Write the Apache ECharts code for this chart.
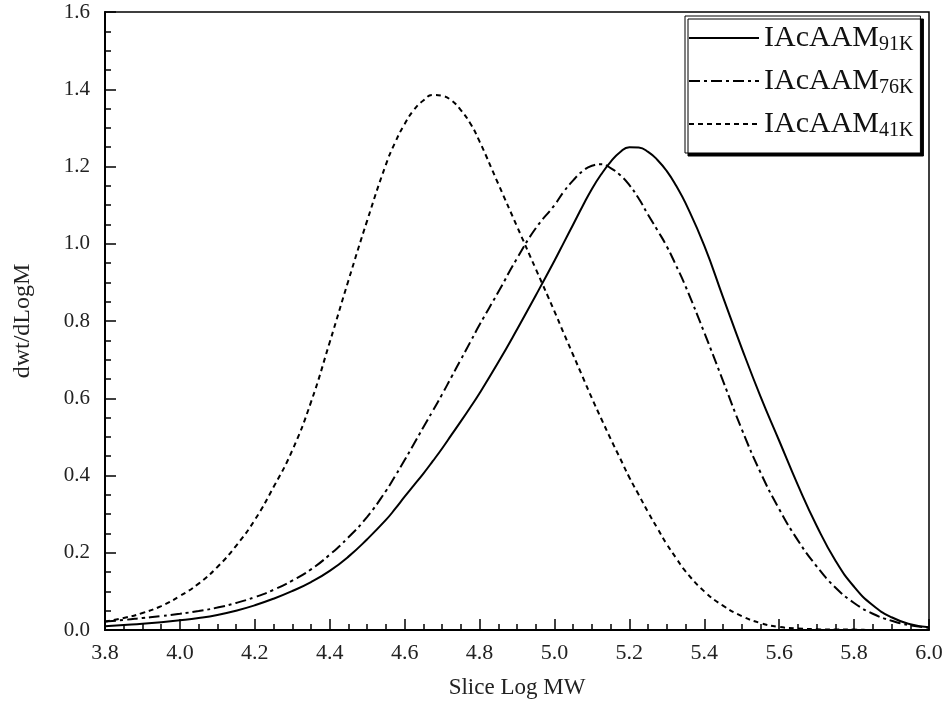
<!DOCTYPE html>
<html>
<head>
<meta charset="utf-8">
<script src="https://cdn.jsdelivr.net/npm/echarts@6/dist/echarts.min.js"></script>
<style>
html,body{margin:0;padding:0;background:#fff;}
#chart{width:946px;height:718px;}
</style>
</head>
<body>
<div id="chart"></div>
<script>
// Slice Log MW (x values)
const logMW = [3.80,3.85,3.90,3.95,4.00,4.05,4.10,4.15,4.20,4.25,4.30,4.35,4.40,4.45,4.50,4.55,
  4.575,4.60,4.625,4.65,4.675,4.70,4.725,4.75,4.775,4.80,
  4.85,4.90,4.95,5.00,
  5.025,5.05,5.075,5.10,5.125,5.15,5.175,5.20,5.225,5.25,5.275,5.30,5.325,5.35,
  5.40,5.45,5.50,5.55,5.60,5.65,5.70,5.75,5.80,5.85,5.90,5.95,6.00];

// dwt/dLogM values
const iac91K = [0.010,0.013,0.016,0.020,0.025,0.031,0.039,0.050,0.064,0.081,0.101,0.124,0.153,0.190,0.235,0.285,
  0.314,0.345,0.375,0.405,0.437,0.470,0.505,0.540,0.576,0.613,
  0.693,0.778,0.866,0.956,
  1.003,1.050,1.097,1.142,1.180,1.212,1.237,1.250,1.249,1.238,1.217,1.188,1.150,1.105,
  0.995,0.862,0.730,0.605,0.490,0.375,0.270,0.180,0.112,0.064,0.033,0.015,0.007];
const iac76K = [0.022,0.026,0.031,0.036,0.042,0.049,0.058,0.070,0.085,0.104,0.128,0.157,0.195,0.240,0.293,0.360,
  0.399,0.440,0.482,0.525,0.567,0.610,0.655,0.700,0.745,0.790,
  0.875,0.962,1.040,1.100,
  1.135,1.164,1.188,1.202,1.206,1.196,1.178,1.152,1.117,1.075,1.035,0.993,0.943,0.890,
  0.770,0.645,0.520,0.408,0.313,0.232,0.165,0.110,0.070,0.042,0.024,0.012,0.006];
const iac41K = [0.022,0.031,0.044,0.062,0.088,0.120,0.163,0.218,0.285,0.370,0.465,0.590,0.745,0.905,1.060,1.205,
  1.263,1.310,1.347,1.371,1.385,1.383,1.371,1.346,1.312,1.265,
  1.155,1.045,0.935,0.825,
  0.768,0.712,0.656,0.600,0.547,0.495,0.445,0.395,0.350,0.305,0.263,0.222,0.186,0.152,
  0.100,0.063,0.036,0.018,0.008,0.004,0.002,0.001,0.001,0,0,0,0];

const baseName = 'IAcAAM';
const subscripts = ['91K','76K','41K'];
const xTitle = 'Slice Log MW';
const yTitle = 'dwt/dLogM';

const serif = '"Liberation Serif","Times New Roman",serif';
const pair = ys => logMW.map((x,i)=>[x, ys[i]]);

const chart = echarts.init(document.getElementById('chart'), null, {renderer:'canvas'});
const dashStyles = ['solid', [11,4,3,4], [5,4]];
const seriesData = [iac91K, iac76K, iac41K];

chart.setOption({
  backgroundColor:'#fff',
  animation:false,
  grid:{left:105,right:17,top:12,bottom:88,show:true,borderColor:'#000',borderWidth:1.5,backgroundColor:'transparent'},
  xAxis:{
    type:'value',min:3.8,max:6.0,interval:0.2,
    name:xTitle,nameLocation:'middle',nameGap:46,
    nameTextStyle:{fontFamily:serif,fontSize:23,color:'#222'},
    axisLine:{show:true,onZero:false,lineStyle:{color:'#000',width:2}},
    axisTick:{show:true,inside:true,length:11,lineStyle:{color:'#000',width:1.5}},
    minorTick:{show:true,splitNumber:4,length:6,lineStyle:{color:'#000',width:1.5}},
    splitLine:{show:false},
    axisLabel:{margin:12,fontFamily:serif,fontSize:22,color:'#222',formatter:v=>v.toFixed(1)}
  },
  yAxis:{
    type:'value',min:0,max:1.6,interval:0.2,
    name:yTitle,nameLocation:'middle',nameGap:70,
    nameTextStyle:{fontFamily:serif,fontSize:24,color:'#222'},
    axisLine:{show:true,onZero:false,lineStyle:{color:'#000',width:2}},
    axisTick:{show:true,inside:true,length:11,lineStyle:{color:'#000',width:1.5}},
    minorTick:{show:true,splitNumber:4,length:6,lineStyle:{color:'#000',width:1.5}},
    splitLine:{show:false},
    axisLabel:{margin:15,fontFamily:serif,fontSize:21,color:'#222',formatter:v=>v.toFixed(1)}
  },
  legend:{
    orient:'vertical',left:685,top:16,
    itemWidth:70,itemHeight:14,itemGap:9,
    padding:[5,7,12,3],
    backgroundColor:'#fff',borderColor:'#000',borderWidth:1,
    shadowColor:'#000',shadowBlur:0,shadowOffsetX:3,shadowOffsetY:3,
    itemStyle:{opacity:0},
    data:subscripts.map(s=>baseName+s),
    formatter:name=>'{m|'+baseName+'}{s|'+name.slice(baseName.length)+'}',
    textStyle:{
      rich:{
        m:{fontFamily:serif,fontSize:30,color:'#111',lineHeight:30},
        s:{fontFamily:serif,fontSize:20,color:'#111',lineHeight:20,padding:[14,0,0,0]}
      }
    }
  },
  series:subscripts.map((s,i)=>({
    name:baseName+s,
    type:'line',
    smooth:true,
    symbol:'none',
    data:pair(seriesData[i]),
    lineStyle:{color:'#000',width:2,type:dashStyles[i]},
    itemStyle:{color:'#000'}
  }))
});
</script>
</body>
</html>
